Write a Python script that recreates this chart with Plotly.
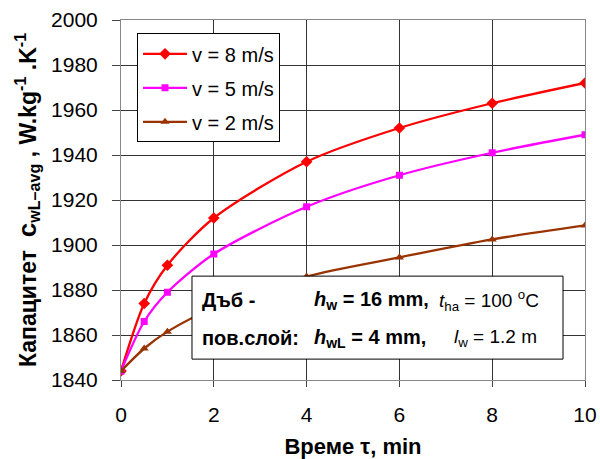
import plotly.graph_objects as go

time_min = [0, 0.5, 1, 2, 4, 6, 8, 10]
v8 = [1844, 1874, 1891, 1912, 1937, 1952, 1963, 1972]
v5 = [1844, 1866, 1879, 1896, 1917, 1931, 1941, 1949]
v2 = [1844, 1854, 1861.5, 1872, 1886, 1894.5, 1902.5, 1908.7]
series_names = ["v = 8 m/s", "v = 5 m/s", "v = 2 m/s"]
x_ticks = [0, 2, 4, 6, 8, 10]
y_ticks = [1840, 1860, 1880, 1900, 1920, 1940, 1960, 1980, 2000]

FONT = "Arial, 'Liberation Sans', sans-serif"

fig = go.Figure()
styles = [
    ("#FF0000", "diamond", 9),
    ("#FF00FF", "square", 7),
    ("#993300", "triangle-up", 8),
]
for name, ys, (col, sym, ms) in zip(series_names, [v8, v5, v2], styles):
    fig.add_trace(go.Scatter(
        x=time_min, y=ys, name=name, mode="lines+markers",
        line=dict(color=col, width=2.3, shape="spline", smoothing=0.8),
        marker=dict(color=col, symbol=sym, size=ms),
        legendgroup=name,
    ))

fig.update_layout(
    width=600, height=459,
    margin=dict(l=121, r=15, t=20, b=79),
    paper_bgcolor="white", plot_bgcolor="white",
    font=dict(family=FONT, color="black"),
    showlegend=True,
    legend=dict(
        x=0.0345, y=0.963, xanchor="left", yanchor="top",
        bgcolor="white", bordercolor="black", borderwidth=1,
        font=dict(size=20, family=FONT),
        tracegroupgap=5, itemwidth=44,
    ),
)
fig.update_xaxes(
    range=[0, 10], tickvals=x_ticks, ticks="outside", ticklen=6, tickcolor="#444",
    showgrid=True, gridcolor="#333", gridwidth=1, zeroline=False,
    showline=True, linecolor="#888", mirror=True, automargin=False,
    tickfont=dict(size=21), ticklabelstandoff=10,
    title=dict(text="<b>Време τ, min</b>", font=dict(size=22), standoff=14),
)
fig.update_yaxes(
    range=[1840, 2000], tickvals=y_ticks, ticks="outside", ticklen=8, tickcolor="#444",
    showgrid=True, gridcolor="#333", gridwidth=1, zeroline=False,
    showline=True, linecolor="#888", mirror=True, automargin=False,
    tickfont=dict(size=21), ticklabelstandoff=10,
    title=dict(text="<b>Капацитет  <span style='font-size:26px'>c</span><sub>wL–avg</sub> , W.kg<sup>-1</sup> .K<sup>-1</sup></b>",
               font=dict(size=23), standoff=8),
)

# info box
fig.add_shape(type="rect", xref="paper", yref="paper",
              x0=0.153, x1=0.9526, y0=0.058, y1=0.2885,
              fillcolor="white", line=dict(color="black", width=1), layer="above")

bold_font = dict(size=20, family=FONT, color="black")
reg_font = dict(size=19, family=FONT, color="black")
def px_x(p):
    return (p - 121) / 464.0

row1, row2 = 0.222, 0.1165
box_texts = [
    (200, row1, "<b>Дъб -</b>", bold_font),
    (200, row2, "<b>пов.слой:</b>", bold_font),
    (312, row1, "<b><i>h</i><sub>w</sub> = 16 mm,</b>", bold_font),
    (312, row2, "<b><i>h</i><sub>wL</sub> = 4 mm,</b>", bold_font),
    (437, row1, "<i>t</i><sub>ha</sub> = 100 <sup>o</sup>C", reg_font),
    (452, row2, "<i>l</i><sub>w</sub> = 1.2 m", reg_font),
]
for px, yy, txt, fnt in box_texts:
    fig.add_annotation(xref="paper", yref="paper", x=px_x(px), y=yy, xanchor="left", yanchor="middle",
                       text=txt, showarrow=False, font=fnt)

fig.write_html("out.html")
